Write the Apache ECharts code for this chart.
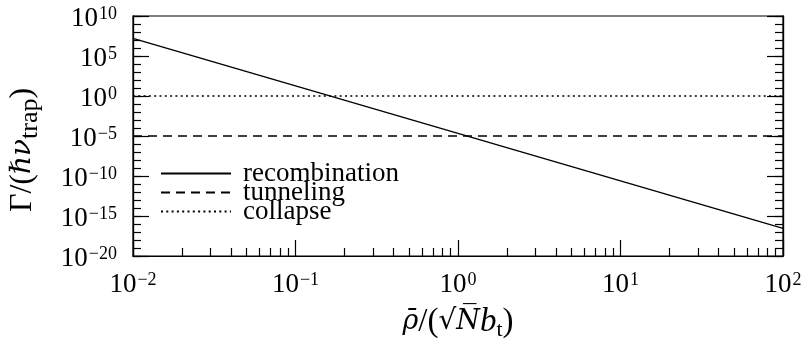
<!DOCTYPE html>
<html>
<head>
<meta charset="utf-8">
<script src="https://cdn.jsdelivr.net/npm/echarts@6/dist/echarts.min.js"></script>
<style>
  html, body { margin: 0; padding: 0; background: #fff; }
  #chart { width: 806px; height: 343px; }
</style>
</head>
<body>
<div id="chart"></div>
<script>
// Decay rates versus scaled radius (log-log)
const seriesNames = ['recombination', 'tunneling', 'collapse'];
const rho = [0.01, 100];
const recombination = [1.6e7, 2.9e-17];
const tunneling = [1e-5, 1e-5];
const collapse = [1, 1];

// axis ranges and labelled ticks (powers of ten)
const xRange = [0.01, 100];
const yRange = [1e-20, 1e10];
const xTickExponents = [-2, -1, 0, 1, 2];
const yTickExponents = [-20, -15, -10, -5, 0, 5, 10];

const FONT = 'Liberation Serif';
const MATH = 'DejaVu Serif';
const INK = '#000';

function pairs(ys) { return rho.map((x, i) => [x, ys[i]]); }

function powerLabel(exps) {
  return function (value) {
    const e = Math.round(Math.log10(value));
    if (exps.indexOf(e) < 0) return '';
    const s = e < 0 ? '\u2212' + (-e) : String(e);
    return '{b|10}{e|' + s + '}';
  };
}

const powerRich = {
  b: { fontFamily: FONT, fontSize: 27, lineHeight: 27, color: INK, padding: [6, 0, 0, 0] },
  e: { fontFamily: FONT, fontSize: 18, lineHeight: 18, color: INK, padding: [0, 0, 3, 1] }
};

const axisW = 1.2;
const lineW = 1.4;

function yAxisDef(position, interval, tickLen, withLabels) {
  return {
    type: 'log', logBase: 10, min: yRange[0], max: yRange[1], interval: interval,
    position: position, gridIndex: 0,
    axisLine: { show: true, lineStyle: { color: INK, width: axisW } },
    axisTick: { show: true, inside: true, length: tickLen, lineStyle: { color: INK, width: axisW } },
    axisLabel: withLabels ? {
      show: true, margin: 16, formatter: powerLabel(yTickExponents), rich: powerRich
    } : { show: false },
    splitLine: { show: false },
    minorTick: { show: false }
  };
}

const chart = echarts.init(document.getElementById('chart'), null, { renderer: 'canvas' });

chart.setOption({
  animation: false,
  backgroundColor: '#fff',
  grid: {
    left: 133, top: 16, width: 650, height: 240,
    containLabel: false, outerBoundsMode: 'none',
    show: true, borderColor: INK, borderWidth: axisW, backgroundColor: 'transparent'
  },
  xAxis: [{
    type: 'log', logBase: 10, min: xRange[0], max: xRange[1], interval: 1,
    position: 'bottom',
    axisLine: { show: true, lineStyle: { color: INK, width: axisW } },
    axisTick: { show: true, inside: true, length: 16, lineStyle: { color: INK, width: axisW } },
    minorTick: { show: true, splitNumber: 9, length: 8, lineStyle: { color: INK, width: axisW } },
    axisLabel: { show: true, margin: 12, formatter: powerLabel(xTickExponents), rich: powerRich },
    splitLine: { show: false },
    name: '{m|\u03C1\u0304}{g|/(}{r|\u221A}{m|N\u0305}{i|b}{s|t}{g|)}',
    nameLocation: 'middle',
    nameGap: 43,
    nameTextStyle: {
      rich: {
        g: { fontFamily: FONT, fontSize: 33, lineHeight: 38, color: INK },
        r: { fontFamily: MATH, fontSize: 28, lineHeight: 38, color: INK },
        m: { fontFamily: MATH, fontSize: 27, lineHeight: 38, fontStyle: 'italic', color: INK },
        i: { fontFamily: FONT, fontSize: 33, lineHeight: 38, fontStyle: 'italic', color: INK },
        s: { fontFamily: FONT, fontSize: 22, lineHeight: 22, color: INK, padding: [16, 0, 0, 0] }
      }
    }
  }],
  yAxis: [
    Object.assign(yAxisDef('left', 5, 16, true), {
      name: '{g|\u0393/(}{i|\u210F\u03BD}{s|trap}{g|)}',
      nameLocation: 'middle',
      nameRotate: 90,
      nameGap: 92,
      nameTextStyle: {
        padding: [0, 28, 0, 0],
        rich: {
          g: { fontFamily: FONT, fontSize: 32, lineHeight: 36, color: INK },
          i: { fontFamily: MATH, fontSize: 28, lineHeight: 36, fontStyle: 'italic', color: INK },
          s: { fontFamily: FONT, fontSize: 26, lineHeight: 26, color: INK, padding: [14, 0, 0, 0] }
        }
      }
    }),
    yAxisDef('left', 1, 8, false),
    yAxisDef('right', 5, 16, false),
    yAxisDef('right', 1, 8, false)
  ],
  legend: {
    left: 160, top: 160, orient: 'vertical', padding: 0,
    itemWidth: 70, itemHeight: 10, itemGap: -8,
    itemStyle: { opacity: 0 },
    textStyle: { fontFamily: FONT, fontSize: 27, lineHeight: 19, color: INK, padding: [0, 0, 0, 7] },
    data: seriesNames
  },
  series: [
    {
      name: seriesNames[0], type: 'line', data: pairs(recombination), symbol: 'none',
      lineStyle: { color: INK, width: lineW, type: 'solid' }, itemStyle: { color: INK }
    },
    {
      name: seriesNames[1], type: 'line', data: pairs(tunneling), symbol: 'none',
      lineStyle: { color: INK, width: lineW, type: [9, 6] }, itemStyle: { color: INK }
    },
    {
      name: seriesNames[2], type: 'line', data: pairs(collapse), symbol: 'none',
      lineStyle: { color: INK, width: lineW, type: [2, 3.3] }, itemStyle: { color: INK }
    }
  ]
});
</script>
</body>
</html>
